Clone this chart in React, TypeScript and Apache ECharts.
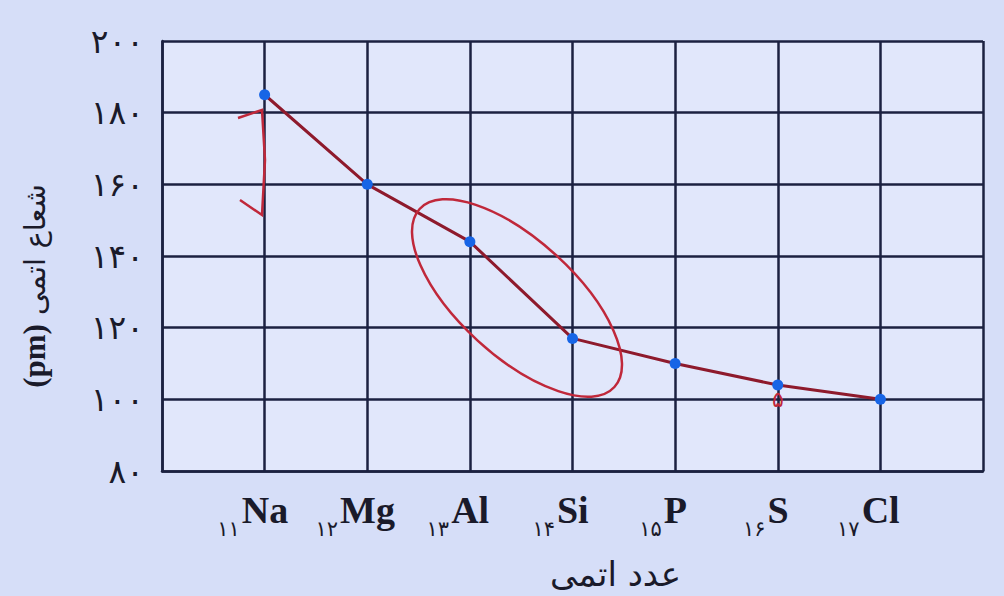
import React, { useEffect, useRef } from "react";
import * as echarts from "echarts";

const elements = ["Na", "Mg", "Al", "Si", "P", "S", "Cl"];
const atomicNumbers = [11, 12, 13, 14, 15, 16, 17];
const atomicNumberLabels = ["۱۱", "۱۲", "۱۳", "۱۴", "۱۵", "۱۶", "۱۷"];
const radii = [185, 160, 144, 117, 110, 104, 100];
const yTickValues = [80, 100, 120, 140, 160, 180, 200];
const persianDigits = ["۰", "۱", "۲", "۳", "۴", "۵", "۶", "۷", "۸", "۹"];
const yAxisUnit = "(pm)";
const yAxisTitle = "شعاع اتمی";
const xAxisTitle = "عدد اتمی";

const toPersian = (n: number) =>
  String(n)
    .split("")
    .map((c) => persianDigits[Number(c)] ?? c)
    .join("");

export default function App() {
  const ref = useRef<HTMLDivElement>(null);
  useEffect(() => {
    if (!ref.current) return;
    const chart = echarts.init(ref.current, undefined, { renderer: "svg" });
    const gridColor = "#1b2140";
    const option: any = {
      animation: false,
      backgroundColor: "#d6def8",
      grid: {
        left: 162,
        right: 21,
        top: 41,
        bottom: 125,
        show: true,
        backgroundColor: "#e1e7fb",
        borderWidth: 0,
      },
      xAxis: {
        type: "value",
        min: 10,
        max: 18,
        interval: 1,
        name: xAxisTitle,
        nameLocation: "middle",
        nameGap: 86,
        nameTextStyle: {
          fontFamily: "DejaVu Sans",
          fontSize: 34,
          color: "#1a1a2a",
          padding: [0, 0, 0, 86],
        },
        axisLine: { show: true, lineStyle: { color: gridColor, width: 2.5 } },
        axisTick: { show: false },
        splitLine: { show: true, lineStyle: { color: gridColor, width: 2.5 } },
        axisLabel: {
          margin: 20,
          formatter: (v: number) => {
            const i = atomicNumbers.indexOf(v);
            if (i < 0) return "";
            return `{sub|${atomicNumberLabels[i]}}{el|${elements[i]}}{pad|}`;
          },
          rich: {
            sub: {
              fontFamily: "DejaVu Sans",
              fontSize: 21,
              color: "#1a1a2a",
              verticalAlign: "bottom",
              padding: [0, 2, 0, 0],
            },
            el: {
              fontFamily: "Liberation Serif",
              fontWeight: "bold",
              fontSize: 38,
              color: "#1a1a2a",
              verticalAlign: "bottom",
              padding: [0, 0, 10, 0],
            },
            pad: { width: 24 },
          },
        },
      },
      yAxis: {
        type: "value",
        min: 80,
        max: 200,
        interval: 20,
        name: `{u|${yAxisUnit}}{t| ${yAxisTitle}}`,
        nameLocation: "middle",
        nameGap: 112,
        nameRotate: 90,
        nameTextStyle: {
          color: "#1a1a2a",
          padding: [0, 60, 0, 0],
          rich: {
            u: {
              fontFamily: "Liberation Serif",
              fontWeight: "bold",
              fontSize: 31,
              color: "#1a1a2a",
            },
            t: {
              fontFamily: "DejaVu Sans",
              fontSize: 29,
              color: "#1a1a2a",
            },
          },
        },
        axisLine: { show: true, lineStyle: { color: gridColor, width: 2.5 } },
        axisTick: { show: false },
        splitLine: { show: true, lineStyle: { color: gridColor, width: 2.5 } },
        axisLabel: {
          margin: 18,
          formatter: (v: number) => toPersian(v),
          fontFamily: "DejaVu Sans",
          fontSize: 33,
          color: "#1a1a2a",
        },
      },
      series: [
        {
          type: "line",
          data: atomicNumbers.map((n, i) => [n, radii[i]]),
          symbol: "circle",
          symbolSize: 11,
          itemStyle: { color: "#1765e6" },
          lineStyle: { color: "#8e1a2c", width: 3 },
          z: 5,
        },
      ],
      graphic: [
        {
          type: "ellipse",
          x: 517,
          y: 298,
          rotation: -0.74,
          shape: { cx: 0, cy: 0, rx: 132, ry: 58 },
          style: { fill: "none", stroke: "#c0283a", lineWidth: 2.5 },
          z: 10,
        },
        {
          type: "polyline",
          shape: {
            points: [
              [238, 118],
              [262, 110],
              [265, 160],
              [262, 215],
              [240, 200],
            ],
          },
          style: { fill: "none", stroke: "#c0283a", lineWidth: 2.5 },
          z: 10,
        },
        {
          type: "text",
          x: 772,
          y: 388,
          style: {
            text: "۵",
            fontSize: 22,
            fontFamily: "DejaVu Sans",
            fill: "#c0283a",
          },
          z: 10,
        },
      ],
    };
    chart.setOption(option);
    return () => chart.dispose();
  }, []);
  return (
    <div
      ref={ref}
      style={{ position: "fixed", left: 0, top: 0, width: 1004, height: 596 }}
    />
  );
}
